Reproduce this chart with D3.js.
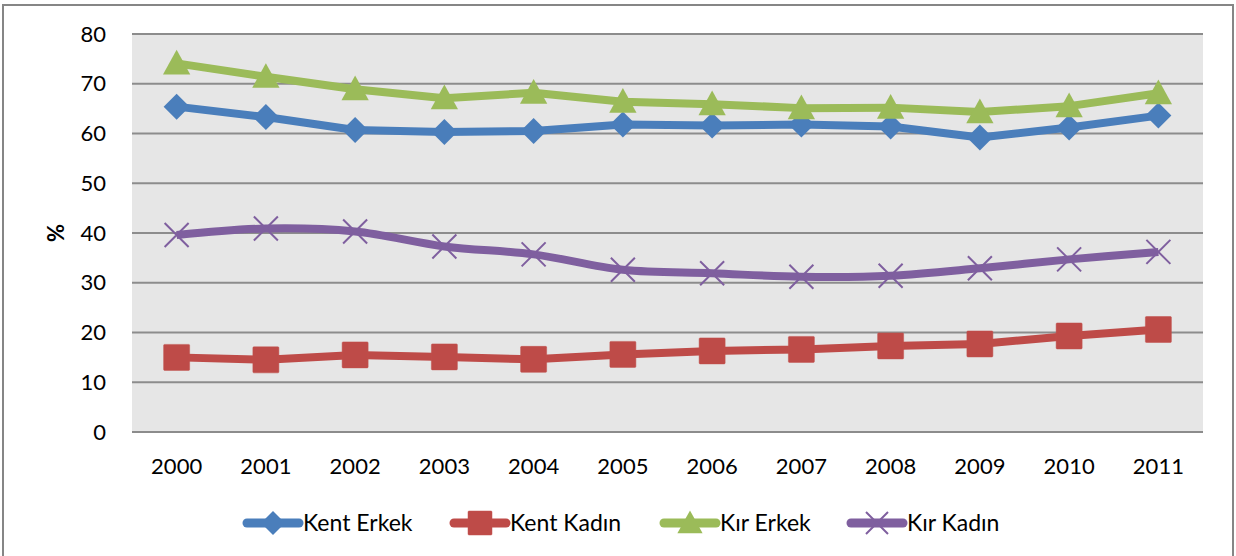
<!DOCTYPE html>
<html lang="tr">
<head>
<meta charset="utf-8" />
<title>Kent / Kır</title>
<script src="https://cdn.jsdelivr.net/npm/d3@7"></script>
<style>
	body { margin: 0; background: #fff; }
	text { font-family: Lato, "Noto Sans", sans-serif; fill: #000; }
	.grid line { stroke: #8c8c8c; stroke-width: 2px; }
	.line { fill: none; stroke-linejoin: round; }
</style>
</head>
<body>
<div id="chart"></div>
<script>
// categories
var years = ["2000", "2001", "2002", "2003", "2004", "2005", "2006", "2007", "2008", "2009", "2010", "2011"];

// series values (%)
var kentErkek = [65.4, 63.3, 60.7, 60.3, 60.5, 61.8, 61.6, 61.8, 61.4, 59.2, 61.2, 63.6];
var kentKadin = [15.0, 14.5, 15.5, 15.1, 14.6, 15.6, 16.3, 16.6, 17.3, 17.7, 19.3, 20.6];
var kirErkek  = [74.1, 71.4, 68.9, 67.1, 68.2, 66.4, 65.9, 65.1, 65.2, 64.3, 65.5, 68.1];
var kirKadin  = [39.6, 40.9, 40.3, 37.3, 35.7, 32.6, 31.9, 31.2, 31.4, 32.9, 34.7, 36.2];

var yTicks = [0, 10, 20, 30, 40, 50, 60, 70, 80];
var names = ["Kent Erkek", "Kent Kadın", "Kır Erkek", "Kır Kadın"];

var series = [
	{name: names[0], values: kentErkek, color: "#4a7ebb", marker: "diamond", smooth: false},
	{name: names[1], values: kentKadin, color: "#be4b48", marker: "square", smooth: false},
	{name: names[2], values: kirErkek, color: "#9bbb59", marker: "triangle", smooth: false},
	{name: names[3], values: kirKadin, color: "#7f5f9f", marker: "cross", smooth: true}
];

var W = 1236, H = 556;
var plot = {left: 132, right: 1203, top: 34, bottom: 432};

var svg = d3.select("#chart").append("svg")
	.attr("width", W)
	.attr("height", H);

// outer chart border
svg.append("rect")
	.attr("x", 3).attr("y", 5)
	.attr("width", 1230).attr("height", 570)
	.attr("fill", "#fff")
	.attr("stroke", "#868686")
	.attr("stroke-width", 2);

// scales
var x = d3.scaleBand().domain(years).range([plot.left, plot.right]).padding(0);
var y = d3.scaleLinear().domain([0, 80]).range([plot.bottom, plot.top]);
function cx(i) { return x(years[i]) + x.bandwidth() / 2; }

// plot background
svg.append("rect")
	.attr("x", plot.left).attr("y", plot.top)
	.attr("width", plot.right - plot.left)
	.attr("height", plot.bottom - plot.top)
	.attr("fill", "#e6e6e6");

// gridlines
svg.append("g").attr("class", "grid")
	.selectAll("line").data(yTicks).enter().append("line")
	.attr("x1", plot.left).attr("x2", plot.right)
	.attr("y1", function(d) { return y(d); })
	.attr("y2", function(d) { return y(d); });

// y axis
var yAxis = svg.append("g")
	.attr("transform", "translate(" + plot.left + ",0)")
	.call(d3.axisLeft(y).tickValues(yTicks).tickSize(0).tickPadding(26));
yAxis.select(".domain").remove();
yAxis.selectAll("text").style("font-size", "22px").style("font-family", "Lato, sans-serif");

// x axis
var xAxis = svg.append("g")
	.attr("transform", "translate(0," + plot.bottom + ")")
	.call(d3.axisBottom(x).tickSize(0).tickPadding(26));
xAxis.select(".domain").remove();
xAxis.selectAll("text").style("font-size", "22px").style("font-family", "Lato, sans-serif");

// y title
svg.append("text")
	.attr("transform", "translate(64,233) rotate(-90)")
	.attr("text-anchor", "middle")
	.style("font-size", "22px")
	.style("font-weight", "bold")
	.text("%");

// marker shapes
function drawMarker(g, type, color, s) {
	if (type === "diamond") {
		g.append("path").attr("d", "M0," + (-s) + "L" + s + ",0L0," + s + "L" + (-s) + ",0Z").attr("fill", color);
	} else if (type === "square") {
		g.append("rect").attr("x", -s).attr("y", -s).attr("width", 2 * s).attr("height", 2 * s)
			.attr("rx", 1).attr("fill", color).attr("stroke", "#c0504d").attr("stroke-width", 0.5);
	} else if (type === "triangle") {
		g.append("path").attr("d", "M0," + (-s * 1.05) + "L" + (s * 1.05) + "," + (s * 0.85) + "L" + (-s * 1.05) + "," + (s * 0.85) + "Z").attr("fill", color);
	} else if (type === "cross") {
		g.append("path").attr("d", "M" + (-s) + "," + (-s) + "L" + s + "," + s + "M" + s + "," + (-s) + "L" + (-s) + "," + s)
			.attr("stroke", color).attr("stroke-width", 2).attr("fill", "none");
	}
}

// lines and markers
series.forEach(function(sr) {
	var line = d3.line()
		.x(function(d, i) { return cx(i); })
		.y(function(d) { return y(d); })
		.curve(sr.smooth ? d3.curveCatmullRom.alpha(0) : d3.curveLinear);

	svg.append("path")
		.datum(sr.values)
		.attr("class", "line")
		.attr("stroke", sr.color)
		.attr("stroke-width", 8)
		.attr("d", line);

	sr.values.forEach(function(v, i) {
		var g = svg.append("g").attr("transform", "translate(" + cx(i) + "," + y(v) + ")");
		drawMarker(g, sr.marker, sr.color, sr.marker === "cross" ? 12 : 13);
	});
});

// legend
var legendX = [243, 450, 660, 847];
var legendY = 523;
series.forEach(function(sr, i) {
	var lg = svg.append("g").attr("transform", "translate(" + legendX[i] + "," + legendY + ")");
	lg.append("line")
		.attr("x1", 4).attr("x2", 56)
		.attr("stroke", sr.color)
		.attr("stroke-width", 9)
		.attr("stroke-linecap", "round");
	var m = lg.append("g").attr("transform", "translate(30,0)");
	drawMarker(m, sr.marker, sr.color, sr.marker === "cross" ? 11 : 12);
	lg.append("text")
		.attr("x", 60)
		.attr("dy", "0.35em")
		.style("font-size", "23px")
		.text(sr.name);
});
</script>
</body>
</html>
